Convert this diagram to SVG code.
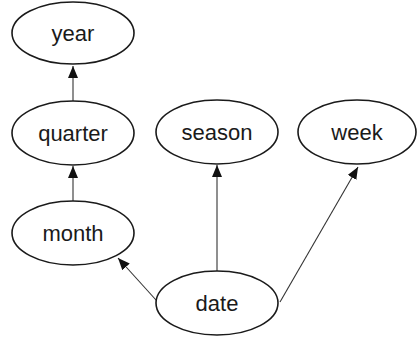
<svg xmlns="http://www.w3.org/2000/svg" width="417" height="341" viewBox="0 0 417 341">
<style>
.n ellipse{fill:#fff;stroke:#1a1a1a;stroke-width:1.6}
.n text{font-family:"Liberation Sans",Arial,sans-serif;font-size:22px;fill:#1a1a1a;text-anchor:middle}
.c line{stroke:#333;stroke-width:1.1}
</style>
<defs>
<marker id="a" viewBox="0 0 12 10" refX="12" refY="5" markerWidth="12" markerHeight="10" markerUnits="userSpaceOnUse" orient="auto">
<path d="M0,0L12,5L0,10z" fill="#111"/>
</marker>
</defs>
<rect width="417" height="341" fill="#fff"/>
<g class="c">
<line x1="73" y1="101" x2="73" y2="66" marker-end="url(#a)"/>
<line x1="73" y1="201" x2="73" y2="166" marker-end="url(#a)"/>
<line x1="217" y1="271" x2="217" y2="165" marker-end="url(#a)"/>
<line x1="156" y1="300" x2="118" y2="258" marker-end="url(#a)"/>
<line x1="280" y1="302" x2="358" y2="167" marker-end="url(#a)"/>
</g>
<g class="n" id="year"><ellipse cx="73" cy="33" rx="61" ry="31"/><text x="73" y="41">year</text></g>
<g class="n" id="quarter"><ellipse cx="73" cy="133" rx="61" ry="32"/><text x="73" y="141">quarter</text></g>
<g class="n" id="month"><ellipse cx="73" cy="233" rx="61" ry="32"/><text x="73" y="241">month</text></g>
<g class="n" id="season"><ellipse cx="217" cy="132" rx="61" ry="32"/><text x="217" y="140">season</text></g>
<g class="n" id="week"><ellipse cx="357" cy="132" rx="59" ry="32"/><text x="357" y="140">week</text></g>
<g class="n" id="date"><ellipse cx="217" cy="303" rx="61" ry="32"/><text x="217" y="311">date</text></g>
</svg>
